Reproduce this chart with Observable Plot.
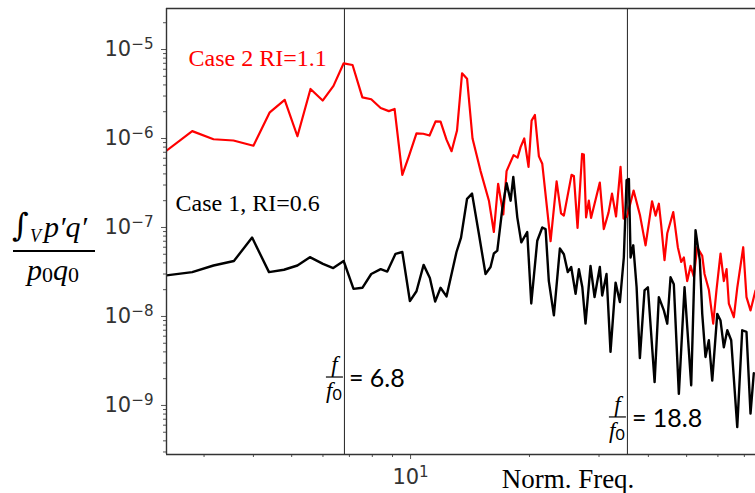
<!DOCTYPE html>
<html>
<head>
<meta charset="utf-8">
<script src="https://cdn.jsdelivr.net/npm/d3@7"></script>
<script src="https://cdn.jsdelivr.net/npm/@observablehq/plot@0.6"></script>
<style>
  body { margin: 0; background: #fff; }
  #wrap { position: relative; width: 755px; height: 493px; overflow: hidden; background: #fff; }
</style>
</head>
<body>
<div id="wrap"></div>
<script>
// ---- Data ----
const redFreq = [2.41,2.80,3.17,3.56,4.00,4.40,4.80,5.17,5.58,5.99,6.38,6.77,7.13,7.55,7.95,8.40,8.81,9.11,9.53,9.90,
  10.35,10.77,11.17,11.57,11.91,12.33,12.70,13.11,13.50,13.90,14.35,15.04,15.79,16.25,16.66,17.17,17.50,18.23,18.66,18.99,
  19.40,19.89,20.25,20.64,21.13,21.55,22.62,23.43,24.04,24.44,25.56,25.91,26.47,27.18,27.46,27.82,28.27,28.64,30.14,30.85,
  31.71,32.36,33.13,34.01,34.61,35.33,36.70,38.11,39.35,40.87,41.72,42.52,43.12,43.95,44.66,46.25,47.50,48.45,49.19,50.17,
  51.15,52.14,53.18,54.76,55.50,56.91,58.38,59.52,60.92,62.11,63.10,63.95,65.84,67.16,69.54,70.88,72.56,74.70];
const redValue = [7.3e-7,1.21e-6,9.8e-7,9.5e-7,8.3e-7,1.97e-6,2.72e-6,1.06e-6,3.6e-6,2.67e-6,3.9e-6,7.0e-6,6.7e-6,2.9e-6,2.76e-6,2.2e-6,2.03e-6,2.15e-6,3.9e-7,6.3e-7,
  1.14e-6,1.13e-6,1.08e-6,1.56e-6,1.55e-6,9.7e-7,7.2e-7,1.23e-6,5.4e-6,4.7e-6,1.0e-6,4.3e-7,2.0e-7,8.9e-8,3.1e-7,1.4e-7,4.3e-7,6.5e-7,6.1e-7,8.0e-7,
  1.0e-6,4.8e-7,1.59e-6,1.84e-6,6.3e-7,5.2e-7,7.0e-8,3.3e-7,1.44e-7,1.36e-7,3.9e-7,3.8e-7,9.9e-8,6.7e-7,6.6e-7,1.3e-7,2.0e-7,1.28e-7,3.2e-7,9.6e-8,
  1.47e-7,2.4e-7,1.33e-7,4.8e-7,1.26e-7,1.33e-7,2.6e-7,1.36e-7,6.3e-8,1.97e-7,1.36e-7,1.85e-7,1.05e-7,4.3e-8,8.6e-8,1.49e-7,6.0e-8,4.1e-8,4.6e-8,2.5e-8,
  3.7e-8,2.8e-8,6.0e-8,4.8e-8,3.0e-8,2.0e-8,8.3e-9,2.0e-8,5.1e-8,2.5e-8,3.4e-8,1.39e-8,9.8e-9,2.1e-8,6.0e-8,1.65e-8,1.17e-8,1.96e-8];

const blackFreq = [2.41,2.80,3.17,3.57,3.97,4.38,4.78,5.17,5.56,6.00,6.37,6.77,7.17,7.55,7.95,8.40,8.73,9.16,9.53,9.96,
  10.35,10.79,11.19,11.54,11.91,12.33,13.07,13.42,13.90,14.31,14.89,15.48,15.94,16.25,16.58,17.07,17.50,17.92,18.20,18.63,
  19.07,19.74,20.21,20.93,21.55,21.97,22.39,23.06,23.88,24.44,25.01,25.51,26.17,26.68,27.22,27.73,28.55,29.23,30.14,30.56,
  31.34,32.08,33.04,33.88,34.67,35.23,35.71,36.06,36.63,37.35,38.07,39.12,39.89,41.48,42.52,43.78,44.66,45.52,46.40,47.78,
  48.73,49.39,51.35,52.66,54.00,54.76,55.81,56.91,58.05,59.77,60.92,62.11,63.37,64.83,67.16,69.13,70.88,72.56,73.96];
const blackValue = [2.9e-8,3.15e-8,3.74e-8,4.2e-8,7.7e-8,3.15e-8,3.35e-8,3.74e-8,4.64e-8,3.9e-8,3.5e-8,4.2e-8,2.04e-8,2.1e-8,3.0e-8,3.4e-8,3.2e-8,5.06e-8,5.3e-8,1.49e-8,
  1.92e-8,3.8e-8,2.7e-8,1.47e-8,2.1e-8,1.68e-8,5.3e-8,7.7e-8,2.1e-7,2.4e-7,8.5e-8,3.0e-8,3.6e-8,5.1e-8,5.5e-8,1.62e-7,3.15e-7,2.0e-7,3.7e-7,1.3e-7,
  6.8e-8,8.9e-8,1.4e-8,7.1e-8,1.0e-7,9.6e-8,2.5e-8,1.03e-8,5.8e-8,5.0e-8,3.15e-8,3.6e-8,1.8e-8,3.4e-8,2.13e-8,8.3e-9,3.7e-8,1.65e-8,3.6e-8,1.72e-8,
  3.0e-8,4.0e-9,2.4e-8,1.45e-8,4.6e-8,3.4e-7,3.5e-7,4.6e-8,6.3e-8,2.13e-8,3.4e-9,1.96e-8,2.13e-8,1.83e-9,1.65e-8,1.17e-8,8.3e-9,2.76e-8,2.3e-8,1.35e-9,
  7.0e-9,2.13e-8,1.68e-9,9.3e-8,4.3e-8,1.07e-8,3.5e-9,5.4e-9,1.9e-9,1.07e-8,9.0e-9,4.5e-9,7.0e-9,5.4e-9,5.7e-10,7.0e-9,6.7e-9,8.1e-10,2.3e-9];

const seriesNames  = ["Case 2 RI=1.1", "Case 1, RI=0.6"];
const seriesColors = ["#ff0000", "#000000"];
const labelFreq    = [2.74, 2.54];
const labelValue   = [6.6e-6, 1.55e-7];

const markerFreq  = [6.8, 35.4];
const markerText  = ["6.8", "18.8"];
const markerValue = [2.06e-9, 7.33e-10];

const xMajorTicks = [10];
const xMinorTicks = [3,4,5,6,7,8,9,20,30,40,50,60,70];
const yMajorTicks = [1e-9,1e-8,1e-7,1e-6,1e-5];
const yMinorTicks = [];
for (const e of [-10,-9,-8,-7,-6,-5]) for (const m of [2,3,4,5,6,7,8,9]) yMinorTicks.push(m * Math.pow(10, e));

const xDomain = [2.41, 74.7];
const yDomain = [2.81e-10, 2.89e-5];
const xLabel = "Norm. Freq.";

// ---- Tables ----
const red = redFreq.map((f, i) => ({f, v: redValue[i]}));
const black = blackFreq.map((f, i) => ({f, v: blackValue[i]}));
const labels = seriesNames.map((t, i) => ({t, f: labelFreq[i], v: labelValue[i], c: seriesColors[i]}));

const supFmt = d => "10^" + String(Math.round(Math.log10(d))).replace("-", "\u2212");

const chart = Plot.plot({
  width: 755, height: 493,
  marginLeft: 166, marginRight: 0, marginTop: 8, marginBottom: 39,
  style: {background: "white", fontFamily: "DejaVu Sans", fontSize: "21px", overflow: "visible"},
  x: {type: "log", domain: xDomain},
  y: {type: "log", domain: yDomain},
  color: {type: "identity"},
  marks: [
    Plot.ruleX(markerFreq, {stroke: "#222", strokeWidth: 1}),
    Plot.line(red, {x: "f", y: "v", stroke: seriesColors[0], strokeWidth: 2.2, clip: true}),
    Plot.line(black, {x: "f", y: "v", stroke: seriesColors[1], strokeWidth: 2.4, clip: true}),
    Plot.axisY(yMinorTicks.filter(d => d >= yDomain[0] && d <= yDomain[1]), {tickSize: 3, tickFormat: () => "", label: null, stroke: "#555"}),
    Plot.axisY(yMajorTicks, {tickSize: 5, tickPadding: 8, tickFormat: supFmt, label: null, stroke: "#555", fill: "#333"}),
    Plot.axisX(xMinorTicks, {tickSize: 3, tickFormat: () => "", label: null, stroke: "#555"}),
    Plot.axisX(xMajorTicks, {tickSize: 5, tickPadding: 10, tickFormat: supFmt, label: null, stroke: "#555", fill: "#333"}),
    Plot.ruleY([yDomain[1]], {stroke: "#333", strokeWidth: 1.4}),
    Plot.ruleY([yDomain[0]], {stroke: "#333", strokeWidth: 1.4}),
    Plot.ruleX([xDomain[0]], {stroke: "#333", strokeWidth: 1.4}),
    Plot.text(labels, {x: "f", y: "v", text: "t", fill: "c", textAnchor: "start", lineAnchor: "bottom",
      fontFamily: "Liberation Serif", fontSize: 24}),
    Plot.text([xLabel], {frameAnchor: "bottom", dx: 107, dy: 33, lineAnchor: "bottom",
      fontFamily: "Liberation Serif", fontSize: 27, fill: "#000"})
  ]
});

document.getElementById("wrap").appendChild(chart);

// ---- superscript exponents in tick labels ----
const svg = d3.select(chart);
svg.selectAll('g[aria-label$="tick label"] text').each(function () {
  const t = this.textContent;
  if (!t.includes("^")) return;
  const [base, exp] = t.split("^");
  this.textContent = base;
  d3.select(this).append("tspan").attr("dy", "-0.5em").attr("font-size", "0.72em").text(exp);
});

// ---- marker annotations (f/f0 = value), positioned with the chart's scales ----
const sx = chart.scale("x"), sy = chart.scale("y");
const ann = svg.append("g").attr("aria-label", "marker annotations").attr("fill", "#000");
markerFreq.forEach((f, i) => {
  const px = sx.apply(f), py = sy.apply(markerValue[i]);
  ann.append("line").attr("x1", px - 18).attr("x2", px - 1).attr("y1", py).attr("y2", py)
    .attr("stroke", "#000").attr("stroke-width", 1.2);
  ann.append("text").attr("x", px - 9.5).attr("y", py - 5).attr("text-anchor", "middle")
    .attr("font-family", "Liberation Serif").attr("font-style", "italic").attr("font-size", 23).text("f");
  const d = ann.append("text").attr("x", px - 10).attr("y", py + 21).attr("text-anchor", "middle")
    .attr("font-family", "Liberation Serif").attr("font-style", "italic").attr("font-size", 23).text("f");
  d.append("tspan").attr("font-style", "normal").attr("font-family", "Lato").attr("font-size", 16).attr("dy", 2).text("0");
  ann.append("text").attr("x", px + 5).attr("y", py + 10).attr("text-anchor", "start")
    .attr("font-family", "Lato").attr("font-size", 25)
    .text("= " + markerText[i]);
});

// ---- y axis label: ∫_V p'q' / (p0 q0) ----
const yl = svg.append("g").attr("aria-label", "y-axis label").attr("fill", "#000");
yl.append("text").attr("x", 12).attr("y", 236).attr("text-anchor", "start")
  .attr("font-family", "DejaVu Serif").attr("font-size", 32).text("\u222B");
yl.append("text").attr("x", 30).attr("y", 242).attr("text-anchor", "start")
  .attr("font-family", "Liberation Serif").attr("font-style", "italic").attr("font-size", 18).text("V");
yl.append("text").attr("x", 44).attr("y", 237).attr("text-anchor", "start")
  .attr("font-family", "Liberation Serif").attr("font-style", "italic").attr("font-size", 30).text("p\u2032q\u2032");
yl.append("line").attr("x1", 13).attr("x2", 95).attr("y1", 251).attr("y2", 251).attr("stroke", "#000").attr("stroke-width", 2);
const den = yl.append("text").attr("x", 53).attr("y", 280).attr("text-anchor", "middle")
  .attr("font-family", "Liberation Serif").attr("font-size", 30);
den.append("tspan").attr("font-style", "italic").text("p");
den.append("tspan").attr("font-size", 22).attr("dy", 2).text("0");
den.append("tspan").attr("font-style", "italic").attr("dy", -2).text("q");
den.append("tspan").attr("font-size", 22).attr("dy", 2).text("0");
</script>
</body>
</html>
